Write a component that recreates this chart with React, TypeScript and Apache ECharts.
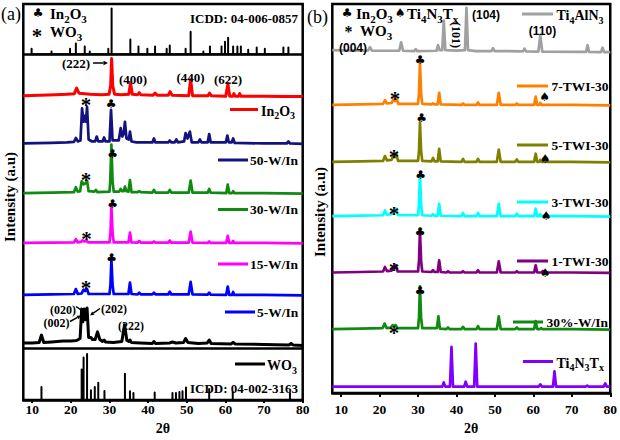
import React, { useEffect, useRef } from "react";
import * as echarts from "echarts";

const SERIF = '"Liberation Serif", "Times New Roman", serif';
const SANS = '"Liberation Sans", Arial, sans-serif';
const SYM = '"DejaVu Sans", sans-serif';

const TICKS = [10, 20, 30, 40, 50, 60, 70, 80];

// ---------- Panel (a) ----------
// ICDD 04-006-0857 (In2O3) reference sticks: 2θ and relative height
const icddIn2O3Pos = [9.85, 15.0, 19.8, 21.3, 23.6, 24.9, 29.7, 30.55, 35.4, 37.5, 39.8, 41.8, 44.8, 45.6, 49.7, 51.0, 54.3, 56.0, 59.0, 59.9, 60.7, 62.0, 63.1, 64.0, 65.9, 68.1, 70.2, 75.0, 76.3];
const icddIn2O3Int = [5.5, 2.8, 5.5, 11, 7.8, 2.8, 5.5, 46.5, 15, 7.8, 5.5, 7.8, 5.5, 8.8, 5.5, 22.8, 2.8, 7.8, 7.8, 12.8, 16.8, 7.8, 7.8, 7.8, 4.5, 6.8, 5.5, 6.8, 6.8];
// ICDD 04-002-3163 (WO3) reference sticks
const icddWO3Pos = [12.4, 22.8, 23.3, 24.2, 25.2, 26.2, 27.1, 28.7, 34.0, 35.3, 36.2, 41.7, 46.3, 47.2, 48.1, 48.9, 49.8, 55.8, 61.9, 76.7];
const icddWO3Int = [13.3, 31, 43.3, 46.7, 10, 13.3, 17.7, 9.3, 26.7, 9, 7.3, 7.7, 7.3, 7.3, 8.3, 9, 12.7, 11.3, 8.3, 7.3];

// measured patterns [2θ, intensity]
const in2o3 = [[7.7,0],[12,0.5],[16,1],[19,1.5],[20.9,2],[21.5,7.7],[22.1,2.5],[23.5,2],[25,1.5],[28,1],[29.9,1.5],[30.3,10],[30.55,37.7],[30.85,10],[31.3,1.5],[33,1],[35.0,1.5],[35.45,13],[35.9,1.5],[37.3,1],[37.7,3],[38.1,1],[41.3,0.5],[41.8,2.5],[42.3,0.5],[45.2,0.5],[45.7,4],[46.2,0.5],[50.5,0],[51.0,16.5],[51.5,0],[55.5,0],[55.9,2.5],[56.3,0],[60.1,-0.5],[60.65,12],[61.1,-0.5],[61.9,-0.5],[62.2,2],[62.5,-0.5],[63.4,-0.5],[63.7,2],[64,-0.5],[70,-0.5],[75,-1],[80,-1]];
const w50 = [[7.7,0],[15,0.5],[19,1],[20.8,1.5],[21.3,5.5],[21.8,2],[22.5,3],[22.9,35.5],[23.3,22],[23.6,28],[23.9,22],[24.2,37],[24.6,4],[25.5,2],[26.3,2],[26.7,7],[27.1,2],[28.2,2],[28.6,6],[29.0,2],[30.0,2],[30.4,34],[30.8,3],[32.4,3],[32.9,15.5],[33.3,7],[33.7,10],[34.0,22],[34.4,5],[35.0,4],[35.3,12],[35.7,2],[37,1],[41.1,1],[41.5,5],[41.9,1],[45.2,1],[45.6,3],[46.0,1],[46.9,1],[47.3,4],[47.7,1],[49.3,2],[49.7,10.5],[50.2,5],[50.8,12],[51.3,1],[53.0,1],[53.4,4],[53.8,1],[55.4,1],[55.8,9.5],[56.2,1],[60.1,1],[60.5,8],[60.9,1],[61.6,1],[62.0,5],[62.4,0.5],[70,0],[75.9,0],[76.3,2],[76.7,0],[80,-0.5]];
const w30 = [[7.7,0],[15,0.5],[20.8,1],[21.3,6],[21.8,1.5],[22.4,2],[22.8,12],[23.3,9],[23.8,10],[24.2,12.7],[24.6,2],[26.1,1.5],[26.5,3.3],[26.9,1],[30.0,1.5],[30.2,12],[30.5,49.3],[30.8,12],[31.1,1.5],[32.5,1.5],[32.9,4.3],[33.3,2],[33.7,2],[34.0,6.7],[34.4,2],[34.9,1.5],[35.3,13.3],[35.7,1],[37.3,1],[37.7,2],[38.1,1],[41.1,0.5],[41.5,3.3],[41.9,0.5],[45.2,0.5],[45.6,3.3],[46.0,0.5],[50.5,0.5],[51.0,12.7],[51.5,0.5],[55.4,0.5],[55.8,4.3],[56.2,0.5],[60.2,0],[60.6,8.7],[61.0,0],[61.7,0],[62.0,2],[62.3,0],[70,0],[80,-0.5]];
const w15 = [[7.7,0],[15,0.3],[20.8,0.5],[21.3,3.8],[21.8,0.5],[22.6,1],[23.0,2.5],[23.5,1.5],[24.0,2.5],[24.5,0.5],[30.0,0.5],[30.25,10],[30.5,37.2],[30.8,10],[31.1,0.5],[34.9,0.5],[35.3,10.5],[35.7,0.5],[37.3,0.3],[37.7,2],[38.1,0.3],[41.1,0.3],[41.5,1.5],[41.9,0.3],[45.2,0.3],[45.6,2.5],[46.0,0.3],[50.5,0.3],[51.0,11.5],[51.5,0.3],[55.4,0],[55.8,1.5],[56.2,0],[60.2,0],[60.6,7.2],[61.0,0],[61.7,0],[62.0,2],[62.3,0],[70,0],[80,-0.5]];
const w5 = [[7.7,0],[15,0.5],[20.8,1],[21.3,6],[21.8,1],[22.8,1.5],[23.3,5.3],[23.7,4],[24.2,6],[24.6,1],[30.0,1],[30.25,10],[30.5,36],[30.8,10],[31.1,1],[34.9,1],[35.3,12.6],[35.7,1],[37.3,0.5],[37.7,2.3],[38.1,0.5],[41.1,0.5],[41.5,2.3],[41.9,0.5],[45.2,0.5],[45.6,3.3],[46.0,0.5],[50.5,0.5],[51.0,13.3],[51.5,0.5],[55.4,0.3],[55.8,2.3],[56.2,0.3],[60.2,0],[60.6,8.6],[61.0,0],[61.7,0],[62.0,3],[62.3,0],[70,0],[80,-0.5]];
const wo3 = [[7.7,0.5],[10,0.5],[11.8,1],[12.4,8.5],[13.0,1],[15,1.5],[18,2.5],[20,2.5],[21.5,3],[22.4,5],[22.8,35],[23.1,22],[23.5,35],[23.85,24],[24.2,36],[24.6,6],[25.2,6],[25.6,4],[26.3,4],[26.9,11.8],[27.5,4],[28.2,2],[28.6,3.5],[29.0,1.5],[31,1],[33.2,2],[33.9,19],[34.5,3],[35.0,2],[35.3,3.5],[35.7,1],[38,0.5],[41.1,0],[41.5,2],[41.9,0],[45.6,0.5],[46.3,1.5],[47.2,0.5],[49.2,1],[49.7,5],[50.3,1],[53,0],[55.3,0.5],[55.8,3.5],[56.3,0],[61.5,-0.5],[62,1.2],[62.5,-0.5],[70,-1],[76.5,-1.5],[77,0],[77.5,-1.5],[80,-2]];
// vertical offsets of the stacked patterns (panel a)
const offsetsA = { in2o3: 309, w50: 260.5, w30: 210, w15: 159.5, w5: 106.7, wo3: 57.5, icddTop: 351, icddBottom: 0 };
const separatorsA = [351, 52.7];

// ---------- Panel (b) ----------
const ti4aln3 = [[7.7,1],[12,0.5],[17.0,0.5],[17.5,4],[18.0,0.5],[22,0.3],[25.1,0.3],[25.6,9],[26.1,0.3],[29.0,0],[29.4,2],[29.8,0],[34.8,0.3],[35.2,6],[35.6,1],[36.3,1],[36.7,31.5],[37.1,1],[40,0.5],[42.2,1],[42.6,44.5],[43.0,1],[45,0],[49.1,0],[49.5,3],[49.9,0],[57.3,-0.3],[57.7,2.5],[58.1,-0.3],[61.3,-0.5],[61.8,16],[62.3,-0.5],[73.7,-0.8],[74.1,6],[74.5,-0.8],[77.6,-1],[78.0,3.5],[78.4,-1],[80,-1]];
const twi7 = [[7.7,0],[15,0.5],[20.9,1],[21.4,4.8],[21.9,1.5],[23.1,2],[23.6,5.5],[24.0,4],[24.4,6.8],[24.9,1],[30.0,1],[30.25,12],[30.5,44.2],[30.8,12],[31.1,1],[33.5,0.5],[33.9,1.5],[34.3,0.5],[35.1,0.5],[35.5,12.5],[35.9,0.5],[41.3,0],[41.7,1.5],[42.1,0],[45.2,0],[45.6,2.5],[46.0,0],[50.5,0],[51.0,12.5],[51.5,0],[55.3,0],[55.7,1.5],[56.1,0],[60.2,0],[60.6,8.5],[61.0,0],[61.5,0],[61.8,2],[62.1,0],[70,0],[80,-0.5]];
const twi5 = [[7.7,0],[15,0.5],[20.9,1],[21.4,6],[21.9,1.5],[23.1,2],[23.6,6],[23.9,5],[24.3,8.4],[24.8,1],[30.0,1],[30.25,11],[30.5,40.7],[30.8,11],[31.1,1],[33.5,0.5],[33.9,4],[34.3,0.5],[35.1,0.5],[35.5,13.4],[35.9,0.5],[41.3,0],[41.7,3],[42.1,0],[45.2,0],[45.6,3],[46.0,0],[50.5,0],[51.0,12.7],[51.5,0],[55.3,0],[55.7,2.5],[56.1,0],[60.2,0],[60.6,8.4],[61.0,0],[61.5,0],[61.8,2],[62.1,0],[70,0],[80,-0.5]];
const twi3 = [[7.7,0],[15,0.5],[20.9,1],[21.4,6],[21.9,1.5],[23.1,2],[23.6,6],[23.9,5],[24.3,7.7],[24.8,1],[30.0,1],[30.25,12],[30.5,43.4],[30.8,12],[31.1,1],[33.5,0.5],[33.9,2],[34.3,0.5],[35.1,0.5],[35.5,12.7],[35.9,0.5],[41.3,0],[41.7,3.3],[42.1,0],[45.2,0],[45.6,3.3],[46.0,0],[50.5,0],[51.0,12.7],[51.5,0],[55.3,0],[55.7,2.7],[56.1,0],[60.2,0],[60.6,7.7],[61.0,0],[61.5,0],[61.8,2],[62.1,0],[70,0],[80,-0.5]];
const twi1 = [[7.7,0],[15,0.5],[20.9,1],[21.4,5.7],[21.9,1.5],[23.1,2],[23.6,6],[23.9,5],[24.2,7.4],[24.7,1],[30.0,1],[30.25,12],[30.5,44],[30.8,12],[31.1,1],[33.5,0.5],[33.9,2.3],[34.3,0.5],[35.1,0.5],[35.5,12.4],[35.9,0.5],[37.4,0],[37.8,1.3],[38.2,0],[41.3,0],[41.7,1.3],[42.1,0],[45.2,0],[45.6,2.3],[46.0,0],[50.5,0],[51.0,11.4],[51.5,0],[55.3,0],[55.7,1.3],[56.1,0],[60.2,0],[60.6,7.4],[61.0,0],[62.1,0],[62.5,1.5],[62.9,0],[70,0],[80,-0.5]];
const w30b = [[7.7,0],[15,0.5],[20.8,1],[21.3,5.7],[21.8,1],[22.9,1.5],[23.4,4],[23.8,3],[24.2,4],[24.6,1],[30.0,1],[30.25,12],[30.5,44],[30.8,12],[31.1,1],[34.9,1],[35.3,13],[35.7,0.5],[37.4,0],[37.8,1.7],[38.2,0],[41.3,0],[41.7,2.3],[42.1,0],[45.2,0],[45.6,3],[46.0,0],[50.5,0],[51.0,13],[51.5,0],[55.3,0],[55.7,1.7],[56.1,0],[60.2,0],[60.6,8.3],[61.0,0],[61.7,0],[62.0,1],[62.3,0],[70,0],[80,-0.5]];
const ti4n3 = [[7.7,0],[30,0],[36.3,0],[36.7,4.3],[37.1,0],[38.3,0],[38.7,41],[39.1,0],[42.0,0],[42.4,5],[42.8,0],[44.6,0],[45.0,44.3],[45.4,0],[61.4,0],[61.8,2.3],[62.2,0],[65.1,0],[65.5,15.6],[65.9,0],[73.6,0],[74.0,1],[74.4,0],[78.3,0],[78.7,3.3],[79.1,0],[80,0]];
const offsetsB = { ti4aln3: 352.5, twi7: 297, twi5: 238.3, twi3: 182.3, twi1: 124.3, w30b: 66, ti4n3: 6.7 };

function shift(pts: number[][], off: number) {
  return pts.map((p) => [p[0], p[1] + off]);
}
function sticks(pos: number[], h: number[], base: number) {
  const out: number[][] = [];
  pos.forEach((x, i) => {
    out.push([x, base], [x, base + h[i]], [x, base]);
  });
  return out;
}

const subStyle = (size: number) => ({
  s: { fontSize: Math.round(size * 0.7), fontWeight: "bold", fontFamily: SERIF, fill: "#000", padding: [Math.round(size * 0.62), 0, 0, 0] },
});

function buildGraphic() {
  const g: any[] = [];
  const T = (x: number, y: number, text: string, o: any = {}) => {
    const size = o.size || 13.5;
    const align = o.align || "left";
    const style: any = {
      text,
      fill: o.color || "#000",
      fontSize: size,
      fontWeight: o.weight || "bold",
      fontFamily: o.family || SERIF,
      align,
      verticalAlign: "middle",
      textAlign: align,
      textVerticalAlign: "middle",
      rich: subStyle(size),
    };
    g.push({ type: "text", x, y, z: 100, silent: true, rotation: o.rot || 0, style });
  };
  const L = (x1: number, y1: number, x2: number, y2: number, color: string, w = 3) => {
    g.push({ type: "line", z: 100, silent: true, shape: { x1, y1, x2, y2 }, style: { stroke: color, lineWidth: w } });
  };
  const A = (x1: number, y1: number, x2: number, y2: number, head = 4.5) => {
    const dx = x2 - x1, dy = y2 - y1;
    const len = Math.sqrt(dx * dx + dy * dy);
    const ux = dx / len, uy = dy / len;
    const bx = x2 - ux * head, by = y2 - uy * head;
    L(x1, y1, bx, by, "#000", 1.5);
    g.push({
      type: "polygon", z: 100, silent: true,
      shape: { points: [[x2, y2], [bx - uy * head * 0.5, by + ux * head * 0.5], [bx + uy * head * 0.5, by - ux * head * 0.5]] },
      style: { fill: "#000" },
    });
  };
  const club = (x: number, y: number) => T(x, y, "\u2663", { family: SYM, size: 12, align: "center", weight: "normal" });
  const spade = (x: number, y: number) => T(x, y, "\u2660", { family: SYM, size: 12, align: "center", weight: "normal" });
  const star = (x: number, y: number, size = 21) => T(x, y + 3, "*", { size, align: "center" });

  // ---- panel (a)
  T(1, 14, "(a)", { size: 18, weight: "normal" });
  club(38, 13);
  T(50, 14, "In{s|2}O{s|3}", { size: 15 });
  star(37, 33);
  T(50, 32, "WO{s|3}", { size: 15 });
  T(298, 18, "ICDD: 04-006-0857", { align: "right", size: 13 });
  T(76, 63, "(222)", { align: "center", size: 13 });
  A(93, 63, 108, 63);
  T(133, 79, "(400)", { align: "center", size: 13 });
  T(190.5, 77, "(440)", { align: "center", size: 13 });
  T(228, 79, "(622)", { align: "center", size: 13 });

  L(230, 109.5, 258, 109.5, "#ff0000");
  T(261, 111, "In{s|2}O{s|3}", { size: 14 });
  L(218, 160, 248, 160, "#131380");
  T(250, 160, "50-W/In");
  L(218, 209.5, 248, 209.5, "#108a10");
  T(250, 209.5, "30-W/In");
  L(218, 264, 248, 264, "#ff00ff");
  T(250, 264, "15-W/In");
  L(225, 312, 255, 312, "#0000ff");
  T(257, 312, "5-W/In");
  L(235, 364, 265, 364, "#000");
  T(267, 365.5, "WO{s|3}", { size: 14 });
  T(298, 388, "ICDD: 04-002-3163", { align: "right", size: 13 });

  T(63, 309.5, "(020)", { align: "center", size: 12 });
  T(56.5, 322.5, "(002)", { align: "center", size: 12 });
  T(114, 309, "(202)", { align: "center", size: 12 });
  T(131, 325.5, "(222)", { align: "center", size: 12 });
  A(76, 306.5, 85, 312.5, 4);
  A(70, 321.5, 81, 315.5, 4);
  A(100, 308.5, 90, 315.5, 4);

  club(111, 104); star(86, 102);
  club(112.5, 153.5); star(86, 176.5);
  club(112.5, 204); star(86.5, 235.5);
  club(111.5, 257.5); star(86, 284.5);

  T(10, 197, "Intensity (a.u)", { size: 15, align: "center", rot: Math.PI / 2 });

  // ---- panel (b)
  T(307, 17, "(b)", { size: 18, weight: "normal" });
  club(347, 13);
  T(356, 14, "In{s|2}O{s|3}", { size: 15 });
  spade(400, 13);
  T(407, 14, "Ti{s|4}N{s|3}T{s|x}", { size: 15 });
  star(348.5, 28, 16);
  T(360, 31, "WO{s|3}", { size: 15 });
  T(353, 47.5, "(004)", { align: "center", size: 12, family: SANS });
  T(456, 35, "(101)", { align: "center", size: 12, rot: -Math.PI / 2 });
  T(472, 15, "(104)", { size: 12, family: SANS });
  T(542.5, 31, "(110)", { align: "center", size: 12, family: SANS });

  L(522, 14, 553, 14, "#a0a0a0");
  T(556.5, 15.5, "Ti{s|4}AlN{s|3}", { size: 14 });
  L(517, 86, 548, 86, "#ff8000");
  T(551.5, 86, "7-TWI-30");
  L(517, 145, 548, 145, "#808000");
  T(551.5, 145, "5-TWI-30");
  L(517, 202, 548, 202, "#00ffff");
  T(551.5, 202, "3-TWI-30");
  L(517, 261, 548, 261, "#800080");
  T(551.5, 261, "1-TWI-30");
  L(513, 322, 543, 322, "#108a10");
  T(546.5, 322, "30%-W/In");
  L(523, 361.5, 553, 361.5, "#8000ff");
  T(556.5, 363, "Ti{s|4}N{s|3}T{s|x}", { size: 14 });

  club(420, 60); star(395, 96); spade(544.5, 96.5);
  club(421.5, 118); star(394, 153.5); spade(545, 158.5);
  club(420.5, 174.5); star(394, 210.5); spade(546, 215.5);
  club(420, 232); star(394, 267); spade(545, 272.5);
  club(420, 291); star(394, 330);

  T(320, 212, "Intensity (a.u)", { size: 15, align: "center", rot: Math.PI / 2 });
  return g;
}

function xAxisFor(gridIndex: number, margin: number, nameGap: number, tickLen: number) {
  return {
    type: "value",
    gridIndex,
    min: 7.7,
    max: 80,
    axisLine: { show: true, onZero: false, lineStyle: { color: "#000", width: 2.5 } },
    axisTick: { show: true, inside: false, length: tickLen, customValues: TICKS, lineStyle: { color: "#000", width: 2 } },
    axisLabel: { show: true, customValues: TICKS, margin, color: "#000", fontFamily: SERIF, fontWeight: "bold", fontSize: 13.5 },
    splitLine: { show: false },
    name: "2\u03b8",
    nameLocation: "middle",
    nameGap,
    nameTextStyle: { color: "#000", fontFamily: SERIF, fontWeight: "bold", fontSize: 14 },
  };
}
function yAxisFor(gridIndex: number, max: number) {
  return {
    type: "value",
    gridIndex,
    min: 0,
    max,
    axisLine: { show: false },
    axisTick: { show: false },
    axisLabel: { show: false },
    splitLine: { show: false },
  };
}

function lineSeries(name: string, data: number[][], color: string, idx: number, width = 2.7) {
  return {
    name,
    type: "line",
    xAxisIndex: idx,
    yAxisIndex: idx,
    data,
    showSymbol: false,
    symbol: "none",
    silent: true,
    lineStyle: { color, width, join: "round" },
    itemStyle: { color },
  };
}

export default function App() {
  const ref = useRef<HTMLDivElement>(null);
  useEffect(() => {
    document.body.style.margin = "0";
    if (!ref.current) return;
    const chart = echarts.init(ref.current, undefined, { renderer: "svg" });
    const series: any[] = [
      lineSeries("ICDD 04-006-0857", sticks(icddIn2O3Pos, icddIn2O3Int, offsetsA.icddTop), "#000", 0, 2),
      lineSeries("ICDD 04-002-3163", sticks(icddWO3Pos, icddWO3Int, offsetsA.icddBottom), "#000", 0, 2),
      lineSeries("In2O3", shift(in2o3, offsetsA.in2o3), "#ff0000", 0, 3),
      lineSeries("50-W/In", shift(w50, offsetsA.w50), "#131380", 0),
      lineSeries("30-W/In", shift(w30, offsetsA.w30), "#108a10", 0),
      lineSeries("15-W/In", shift(w15, offsetsA.w15), "#ff00ff", 0),
      lineSeries("5-W/In", shift(w5, offsetsA.w5), "#0000ff", 0),
      lineSeries("WO3", shift(wo3, offsetsA.wo3), "#000", 0, 3),
      {
        type: "line", xAxisIndex: 0, yAxisIndex: 0, data: [], silent: true,
        markLine: {
          silent: true, symbol: "none", animation: false,
          label: { show: false },
          lineStyle: { color: "#000", width: 2.5, type: "solid" },
          data: separatorsA.map((v) => ({ yAxis: v })),
        },
      },
      lineSeries("Ti4AlN3", shift(ti4aln3, offsetsB.ti4aln3), "#a0a0a0", 1),
      lineSeries("7-TWI-30", shift(twi7, offsetsB.twi7), "#ff8000", 1),
      lineSeries("5-TWI-30", shift(twi5, offsetsB.twi5), "#808000", 1),
      lineSeries("3-TWI-30", shift(twi3, offsetsB.twi3), "#00ffff", 1),
      lineSeries("1-TWI-30", shift(twi1, offsetsB.twi1), "#800080", 1),
      lineSeries("30%-W/In", shift(w30b, offsetsB.w30b), "#108a10", 1),
      lineSeries("Ti4N3Tx", shift(ti4n3, offsetsB.ti4n3), "#8000ff", 1),
    ];
    chart.setOption({
      animation: false,
      backgroundColor: "#fff",
      grid: [
        { left: 23.3, top: 4, width: 279.4, height: 404, show: true, borderColor: "#000", borderWidth: 2.5, backgroundColor: "transparent", containLabel: false },
        { left: 332.3, top: 4, width: 278.7, height: 402, show: true, borderColor: "#000", borderWidth: 2.5, backgroundColor: "transparent", containLabel: false },
      ],
      xAxis: [xAxisFor(0, 2, 18, 3), xAxisFor(1, 9, 20, 4)],
      yAxis: [yAxisFor(0, 402), yAxisFor(1, 401)],
      series,
      graphic: buildGraphic(),
    });
    return () => chart.dispose();
  }, []);
  return <div ref={ref} style={{ width: 620, height: 440 }} />;
}
